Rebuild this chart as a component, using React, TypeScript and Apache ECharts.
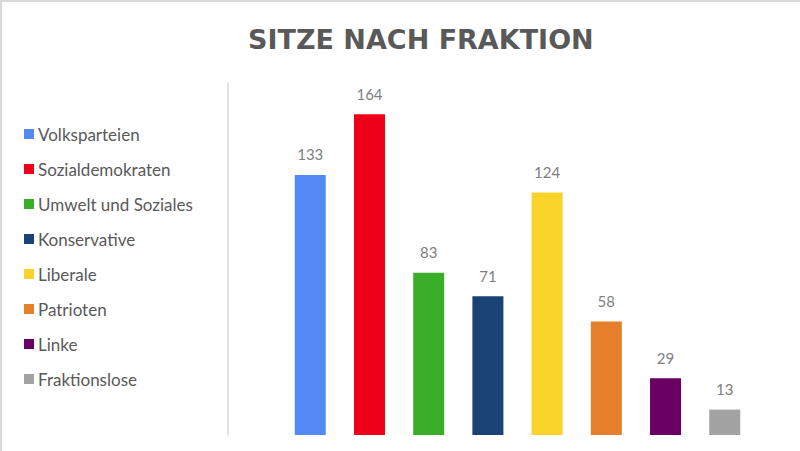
import React, { useEffect, useRef } from "react";
import * as echarts from "echarts";

const title = "SITZE NACH FRAKTION";
const parties = [
  "Volksparteien",
  "Sozialdemokraten",
  "Umwelt und Soziales",
  "Konservative",
  "Liberale",
  "Patrioten",
  "Linke",
  "Fraktionslose",
];
const seats = [133, 164, 83, 71, 124, 58, 29, 13];
const colors = ["#5589F6", "#EE0018", "#3BAE29", "#1B4274", "#F9D32A", "#E67F2A", "#6B0063", "#A3A3A3"];
const category = [""];

export default function App() {
  const ref = useRef<HTMLDivElement>(null);
  useEffect(() => {
    if (!ref.current) return;
    const chart = echarts.init(ref.current, null, { renderer: "svg" });
    const font = "Lato, 'Open Sans', sans-serif";
    chart.setOption({
      animation: false,
      backgroundColor: "#ffffff",
      title: {
        text: title,
        left: 243,
        top: 21,
        textStyle: { fontFamily: "'DejaVu Sans', sans-serif", fontSize: 27, fontWeight: "bold", color: "#595959" },
      },
      legend: {
        orient: "vertical",
        left: 19,
        top: 119,
        icon: "rect",
        itemWidth: 10,
        itemHeight: 10,
        itemGap: 15,
        data: parties,
        textStyle: { fontFamily: font, fontSize: 17, color: "#595959", lineHeight: 20, padding: [0, 0, 0, -1] },
      },
      grid: { left: 228, width: 579, top: 83, bottom: 16, containLabel: false, outerBoundsMode: "none" },
      xAxis: {
        type: "category",
        data: category,
        axisLine: { show: false },
        axisTick: { show: false },
        axisLabel: { show: false },
      },
      yAxis: {
        type: "value",
        min: 0,
        max: 180,
        axisLine: { show: true, lineStyle: { color: "#D9D9D9", width: 1.5 } },
        axisTick: { show: false },
        axisLabel: { show: false },
        splitLine: { show: false },
      },
      graphic: [
        { type: "rect", shape: { x: 0, y: 0, width: 800, height: 2 }, style: { fill: "#D9D9D9" } },
        { type: "rect", shape: { x: 0, y: 0, width: 2, height: 451 }, style: { fill: "#D9D9D9" } },
      ],
      series: parties.map((p, i) => ({
        name: p,
        type: "bar",
        data: [seats[i]],
        barWidth: 31,
        barGap: "91%",
        itemStyle: { color: colors[i] },
        label: {
          show: true,
          position: "top",
          distance: 13,
          fontFamily: font,
          fontSize: 15,
          color: "#808080",
        },
      })),
    });
    return () => chart.dispose();
  }, []);
  return (
    <div
      ref={ref}
      style={{ position: "fixed", left: 0, top: 0, width: 800, height: 451 }}
    />
  );
}
